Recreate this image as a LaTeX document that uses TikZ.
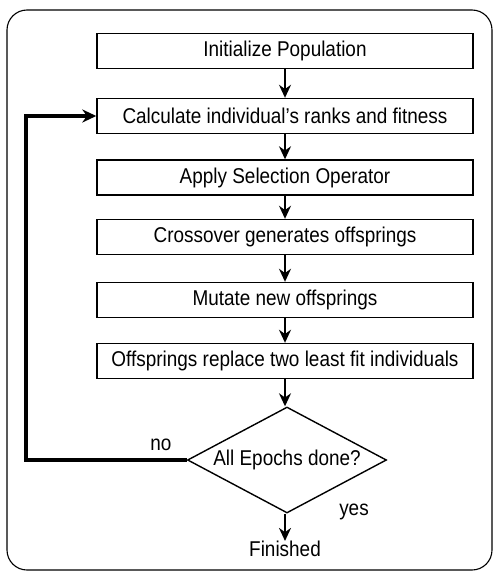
\documentclass[tikz,border=0pt]{standalone}
\usepackage{fontspec}
\setmainfont{Liberation Sans}[FakeStretch=0.885]
\usetikzlibrary{shapes.geometric,arrows.meta}
\begin{document}
\begin{tikzpicture}[x=1pt,y=-1pt,
  stepbox/.style={draw,line width=1.4pt,minimum width=376pt,minimum height=35pt,inner sep=0pt,font=\fontsize{21.4}{23}\selectfont},
  flow/.style={line width=1.8pt,-{Stealth[length=13pt,width=12pt]}},
  lbl/.style={font=\fontsize{21.4}{23}\selectfont,inner sep=0pt}]
\useasboundingbox (0,0) rectangle (494,572);
\draw[line width=1.1pt,rounded corners=20pt] (7,10) rectangle (492,570);
\node[stepbox] (b1) at (285,51) {Initialize Population};
\node[stepbox] (b2) at (285,116) {Calculate individual’s ranks and fitness};
\node[stepbox] (b3) at (285,177.5) {Apply Selection Operator};
\node[stepbox] (b4) at (285,237) {Crossover generates offsprings};
\node[stepbox] (b5) at (285,300) {Mutate new offsprings};
\node[stepbox] (b6) at (285,361) {Offsprings replace two least fit individuals};
\node[draw,line width=1.4pt,shape=diamond,aspect=1.88,minimum width=199pt,minimum height=106pt,inner sep=0pt,font=\fontsize{21.4}{23}\selectfont] (d) at (287,460) {All Epochs done?};
\node[lbl] (fin) at (285,549) {Finished};
\node[lbl] (yes) at (354,512) {yes};
\node[lbl] (no) at (161,445) {no};
\coordinate (c1) at (26,460);
\coordinate (c2) at (26,116);
\draw[flow] (b1) -- (b2);
\draw[flow] (b2) -- (b3);
\draw[flow] (b3) -- (b4);
\draw[flow] (b4) -- (b5);
\draw[flow] (b5) -- (b6);
\draw[flow] (b6.south) -- (d.north -| b6.south);
\draw[flow] (d.south -| fin.north) -- (fin.north);
\draw[line width=3.2pt,-{Stealth[length=14pt,width=13pt]}] (d.west) -- (c1) -- (c2) -- (b2.west);
\end{tikzpicture}
\end{document}
